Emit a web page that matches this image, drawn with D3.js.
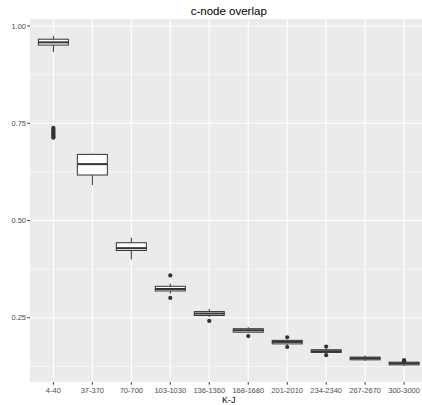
<!DOCTYPE html>
<html>
<head>
<meta charset="utf-8">
<script src="https://cdn.jsdelivr.net/npm/d3@7"></script>
<style>
  html, body { margin: 0; padding: 0; background: #ffffff; }
  svg { display: block; }
</style>
</head>
<body>
<div id="chart"></div>
<script>
// ---- data ----
const categories = ["4-40", "37-370", "70-700", "103-1030", "136-1360", "168-1680", "201-2010", "234-2340", "267-2670", "300-3000"];
const whiskerHigh = [0.974, 0.672, 0.456, 0.338, 0.273, 0.226, 0.194, 0.171, 0.153, 0.138];
const q3Values    = [0.966, 0.670, 0.443, 0.331, 0.266, 0.222, 0.192, 0.168, 0.149, 0.136];
const medians     = [0.958, 0.645, 0.429, 0.324, 0.261, 0.218, 0.188, 0.164, 0.146, 0.133];
const q1Values    = [0.951, 0.617, 0.423, 0.319, 0.256, 0.213, 0.183, 0.161, 0.142, 0.129];
const whiskerLow  = [0.933, 0.591, 0.400, 0.312, 0.252, 0.211, 0.180, 0.159, 0.139, 0.126];
const outliers    = [
  [0.738, 0.734, 0.730, 0.726, 0.722, 0.718, 0.715, 0.713],
  [],
  [],
  [0.359, 0.301],
  [0.242],
  [0.203],
  [0.200, 0.175],
  [0.176, 0.154],
  [],
  [0.141, 0.139]
];
const yTicks = [0.25, 0.50, 0.75, 1.00];
const yMinorTicks = [0.125, 0.375, 0.625, 0.875];
const titleText = "c-node overlap";
const xTitle = "K-J";

// ---- layout ----
const W = 422, H = 405;
const panel = { left: 30, right: 427.5, top: 19, bottom: 382 };

const svg = d3.select("#chart").append("svg")
  .attr("width", W).attr("height", H)
  .style("font-family", "'Liberation Sans', Arial, Helvetica, sans-serif");

const x = d3.scalePoint().domain(categories).range([panel.left, panel.right]).padding(0.6);
const y = d3.scaleLinear().domain([0.085, 1.018]).range([panel.bottom, panel.top]);
const boxW = x.step() * 0.77;

// panel background
svg.append("rect")
  .attr("x", panel.left).attr("y", panel.top)
  .attr("width", panel.right - panel.left).attr("height", panel.bottom - panel.top)
  .attr("fill", "#ebebeb");

// minor grid
svg.append("g").selectAll("line").data(yMinorTicks).join("line")
  .attr("x1", panel.left).attr("x2", panel.right)
  .attr("y1", d => y(d)).attr("y2", d => y(d))
  .attr("stroke", "#ffffff").attr("stroke-width", 0.55);

// major grid
svg.append("g").selectAll("line").data(yTicks).join("line")
  .attr("x1", panel.left).attr("x2", panel.right)
  .attr("y1", d => y(d)).attr("y2", d => y(d))
  .attr("stroke", "#ffffff").attr("stroke-width", 1.1);
svg.append("g").selectAll("line").data(categories).join("line")
  .attr("x1", d => x(d)).attr("x2", d => x(d))
  .attr("y1", panel.top).attr("y2", panel.bottom)
  .attr("stroke", "#ffffff").attr("stroke-width", 1.1);

// boxes
const boxes = categories.map((c, i) => ({
  c, lo: whiskerLow[i], q1: q1Values[i], med: medians[i], q3: q3Values[i], hi: whiskerHigh[i], out: outliers[i]
}));

const g = svg.append("g");
const bg = g.selectAll("g.box").data(boxes).join("g").attr("class", "box");

// whiskers
bg.append("line")
  .attr("x1", d => x(d.c)).attr("x2", d => x(d.c))
  .attr("y1", d => y(d.hi)).attr("y2", d => y(d.q3))
  .attr("stroke", "#333333").attr("stroke-width", 1);
bg.append("line")
  .attr("x1", d => x(d.c)).attr("x2", d => x(d.c))
  .attr("y1", d => y(d.q1)).attr("y2", d => y(d.lo))
  .attr("stroke", "#333333").attr("stroke-width", 1);
// box
bg.append("rect")
  .attr("x", d => x(d.c) - boxW / 2).attr("width", boxW)
  .attr("y", d => y(d.q3)).attr("height", d => y(d.q1) - y(d.q3))
  .attr("fill", "#ffffff").attr("stroke", "#333333").attr("stroke-width", 1);
// median
bg.append("line")
  .attr("x1", d => x(d.c) - boxW / 2).attr("x2", d => x(d.c) + boxW / 2)
  .attr("y1", d => y(d.med)).attr("y2", d => y(d.med))
  .attr("stroke", "#333333").attr("stroke-width", 2);
// outliers
bg.each(function(d) {
  d3.select(this).selectAll("circle").data(d.out).join("circle")
    .attr("cx", x(d.c)).attr("cy", v => y(v)).attr("r", 2.1)
    .attr("fill", "#333333");
});

// y axis ticks + labels
const yAxis = svg.append("g");
yAxis.selectAll("line").data(yTicks).join("line")
  .attr("x1", panel.left - 2.7).attr("x2", panel.left)
  .attr("y1", d => y(d)).attr("y2", d => y(d))
  .attr("stroke", "#333333").attr("stroke-width", 1);
yAxis.selectAll("text").data(yTicks).join("text")
  .attr("x", panel.left - 4).attr("y", d => y(d))
  .attr("dy", "0.35em").attr("text-anchor", "end")
  .attr("font-size", "7.5px").attr("fill", "#4d4d4d")
  .text(d => d3.format(".2f")(d));

// x axis ticks + labels
const xAxis = svg.append("g");
xAxis.selectAll("line").data(categories).join("line")
  .attr("x1", d => x(d)).attr("x2", d => x(d))
  .attr("y1", panel.bottom).attr("y2", panel.bottom + 2.7)
  .attr("stroke", "#333333").attr("stroke-width", 1);
xAxis.selectAll("text").data(categories).join("text")
  .attr("x", d => x(d)).attr("y", 392.5)
  .attr("text-anchor", "middle")
  .attr("font-size", "7.5px").attr("fill", "#4d4d4d")
  .text(d => d);

// titles
svg.append("text")
  .attr("x", (panel.left + panel.right) / 2).attr("y", 14.5)
  .attr("text-anchor", "middle").attr("font-size", "11.5px").attr("fill", "#000000")
  .text(titleText);
svg.append("text")
  .attr("x", (panel.left + panel.right) / 2).attr("y", 402.5)
  .attr("text-anchor", "middle").attr("font-size", "9px").attr("fill", "#000000")
  .text(xTitle);
</script>
</body>
</html>
